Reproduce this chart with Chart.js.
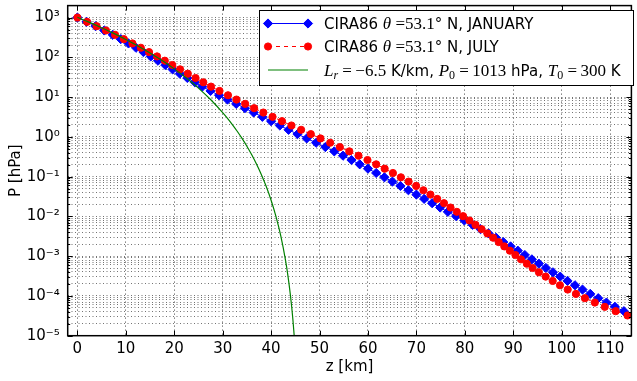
<!DOCTYPE html>
<html>
<head>
<meta charset="utf-8">
<script src="https://cdn.jsdelivr.net/npm/chart.js@4/dist/chart.umd.min.js"></script>
<style>
  html, body { margin: 0; padding: 0; background: #fff; }
</style>
</head>
<body>
<canvas id="chart" width="637" height="381"></canvas>
<script>
// pressure levels of the CIRA86 table [hPa]
const pLevels = [
    1000, 778.8, 606.5, 472.4, 367.9, 286.5, 223.1, 173.8, 135.3, 105.4,
    82.08, 63.93, 49.79, 38.77, 30.20, 23.52, 18.32, 14.26, 11.11, 8.652,
    6.738, 5.248, 4.087, 3.183, 2.479, 1.930, 1.503, 1.171, 0.9119, 0.7102,
    0.5531, 0.4307, 0.3355, 0.2613, 0.2035, 0.1585, 0.1234, 0.09611, 0.07485, 0.05829,
    0.04540, 0.03536, 0.02754, 0.02145, 0.01670, 0.01301, 0.01013, 0.007889, 0.006144, 0.004785,
    0.003727, 0.002902, 0.002260, 0.001760, 0.001371, 0.001068, 0.0008315, 0.0006476, 0.0005043, 0.0003928,
    0.0003059, 0.0002382, 0.0001855, 0.0001445, 0.0001125, 0.00008764, 0.00006825, 0.00005316, 0.00004140, 0.00003224,
    0.00002511,
];

// altitude of each level [km], January
const zJanuary = [
    0, 1.9, 3.75, 5.55, 7.3, 8.95, 10.55, 12.1, 13.65, 15.15,
    16.65, 18.15, 19.65, 21.15, 22.7, 24.25, 25.8, 27.5, 29.25, 31.0,
    32.8, 34.6, 36.4, 38.2, 40.0, 41.8, 43.6, 45.45, 47.35, 49.3,
    51.2, 53.05, 54.85, 56.6, 58.3, 60.0, 61.7, 63.4, 65.05, 66.7,
    68.35, 70.0, 71.6, 73.25, 74.9, 76.5, 78.2, 79.9, 81.6, 83.25,
    84.9, 86.45, 87.95, 89.45, 90.95, 92.4, 93.85, 95.3, 96.75, 98.2,
    99.7, 101.2, 102.75, 104.3, 105.9, 107.55, 109.25, 111.0, 112.85, 114.8,
    116.8,
];

// altitude of each level [km], July
const zJuly = [
    0, 2.0, 3.97, 5.9, 7.78, 9.6, 11.37, 13.1, 14.8, 16.45,
    18.05, 19.6, 21.2, 22.8, 24.4, 26.0, 27.6, 29.35, 31.1, 32.85,
    34.65, 36.5, 38.4, 40.3, 42.25, 44.2, 46.2, 48.2, 50.2, 52.2,
    54.2, 56.15, 58.05, 59.9, 61.7, 63.45, 65.15, 66.8, 68.4, 69.95,
    71.45, 72.9, 74.3, 75.7, 77.05, 78.35, 79.65, 80.95, 82.2, 83.45,
    84.65, 85.85, 87.0, 88.15, 89.3, 90.45, 91.6, 92.8, 94.0, 95.3,
    96.7, 98.15, 99.65, 101.25, 102.95, 104.8, 106.85, 108.9, 111.15, 113.6,
    116.2,
];

// constant lapse rate curve
const zLapse = [0, 2.5, 5, 7.5, 10, 12.5, 15, 17.5, 20, 22.5, 25, 27.5, 30, 31, 32, 33, 34, 35,
    36, 37, 38, 39, 40, 41, 42, 43, 43.5, 44, 44.25, 44.5, 44.8];
const pLapse = [1013, 756, 554, 399, 281, 193, 128, 82.7, 51.2, 30.2, 16.8, 8.67, 4.07, 2.91, 2.03, 1.38, 0.912, 0.580,
    0.354, 0.205, 0.112, 0.0563, 0.0255, 0.0100, 0.00323, 0.00076, 0.000307, 0.000102, 0.0000536, 0.0000255, 0.0000089];

const xTicks = [0, 10, 20, 30, 40, 50, 60, 70, 80, 90, 100, 110];
const yDecades = [-5, -4, -3, -2, -1, 0, 1, 2, 3];

const FONT = "'DejaVu Sans', sans-serif";
const SERIF = "'Liberation Serif', 'DejaVu Serif', serif";

const supDigits = { "-": "\u207B", "0": "\u2070", "1": "\u00B9", "2": "\u00B2", "3": "\u00B3",
    "4": "\u2074", "5": "\u2075", "6": "\u2076", "7": "\u2077", "8": "\u2078", "9": "\u2079" };
const sup = (n) => String(n).split("").map((c) => supDigits[c]).join("");

const isDecade = (v) => {
    const e = Math.round(Math.log10(v));
    return Math.abs(v / Math.pow(10, e) - 1) < 1e-6;
};

const yMax = 1995;
const yTickValues = [];
yDecades.forEach((e) => {
    for (let m = 1; m <= 9; m++) {
        const v = m * Math.pow(10, e);
        if (v <= yMax) yTickValues.push(v);
    }
});

const toPoints = (xs, ys) => xs.map((x, i) => ({ x: x, y: ys[i] }));

// legend rows: [font kind, text]
const legendRows = [
    [["s", "CIRA86 "], ["mi", "\u03B8"], ["m", " =53.1"], ["s", "\u00B0"], ["s", " N, JANUARY"]],
    [["s", "CIRA86 "], ["mi", "\u03B8"], ["m", " =53.1"], ["s", "\u00B0"], ["s", " N, JULY"]],
    [["mi", "L"], ["sub", "r"], ["m", " =\u2009\u22126.5"], ["s", " K/km, "], ["mi", "P"], ["subu", "0"],
     ["m", " =\u20091013"], ["s", " hPa, "], ["mi", "T"], ["subu", "0"], ["m", " =\u2009300"], ["s", " K"]],
];
const segFont = {
    s: { font: "15px " + FONT, dy: 0 },
    mi: { font: "italic 17px " + SERIF, dy: 0 },
    m: { font: "17px " + SERIF, dy: 0 },
    sub: { font: "italic 12px " + SERIF, dy: 3.5 },
    subu: { font: "12px " + SERIF, dy: 3.5 },
};

function marker(ctx, style, x, y, r) {
    ctx.beginPath();
    if (style === "rectRot") {
        ctx.moveTo(x, y - r);
        ctx.lineTo(x + r, y);
        ctx.lineTo(x, y + r);
        ctx.lineTo(x - r, y);
        ctx.closePath();
    } else {
        ctx.arc(x, y, r, 0, Math.PI * 2);
    }
    ctx.fill();
    ctx.stroke();
}

const frame = {
    id: "frame",
    afterDraw(chart) {
        const { ctx, chartArea: a } = chart;
        const xs = chart.scales.x;
        const ys = chart.scales.y;
        ctx.save();

        // inward tick marks on all sides
        ctx.strokeStyle = "#000";
        ctx.lineWidth = 1;
        ctx.beginPath();
        xs.ticks.forEach((t) => {
            const px = Math.round(xs.getPixelForValue(t.value)) + 0.5;
            ctx.moveTo(px, a.bottom);
            ctx.lineTo(px, a.bottom - 5);
            ctx.moveTo(px, a.top);
            ctx.lineTo(px, a.top + 5);
        });
        ys.ticks.forEach((t) => {
            const len = isDecade(t.value) ? 5 : 2.5;
            const py = Math.round(ys.getPixelForValue(t.value)) + 0.5;
            ctx.moveTo(a.left, py);
            ctx.lineTo(a.left + len, py);
            ctx.moveTo(a.right, py);
            ctx.lineTo(a.right - len, py);
        });
        ctx.stroke();

        ctx.lineWidth = 1.5;
        ctx.strokeRect(a.left, a.top, a.right - a.left, a.bottom - a.top);

        // legend box
        const box = { left: 259, top: 10.5, right: 633, bottom: 85.5 };
        ctx.fillStyle = "#fff";
        ctx.fillRect(box.left, box.top, box.right - box.left, box.bottom - box.top);
        ctx.lineWidth = 1;
        ctx.strokeRect(box.left + 0.5, box.top, box.right - box.left, box.bottom - box.top);

        const rowY = [23.5, 46.5, 70];
        const x0 = 268, x1 = 308, tx = 324;
        chart.data.datasets.forEach((ds, i) => {
            const y = rowY[i];
            ctx.strokeStyle = ds.borderColor;
            ctx.fillStyle = ds.backgroundColor;
            ctx.lineWidth = ds.borderWidth;
            ctx.setLineDash(ds.borderDash || []);
            ctx.beginPath();
            ctx.moveTo(x0, y);
            ctx.lineTo(x1, y);
            ctx.stroke();
            ctx.setLineDash([]);
            if (ds.pointRadius > 0) {
                ctx.lineWidth = ds.pointBorderWidth;
                marker(ctx, ds.pointStyle, x0, y, ds.pointRadius);
                marker(ctx, ds.pointStyle, x1, y, ds.pointRadius);
            }
            // label text
            ctx.fillStyle = "#000";
            ctx.textBaseline = "alphabetic";
            ctx.textAlign = "left";
            let x = tx;
            legendRows[i].forEach(([kind, text]) => {
                const f = segFont[kind];
                ctx.font = f.font;
                ctx.fillText(text, x, y + 5.5 + f.dy);
                x += ctx.measureText(text).width;
            });
        });
        ctx.restore();
    },
};

const ctx = document.getElementById("chart");

const chart = new Chart(ctx, {
    type: "scatter",
    data: {
        datasets: [
            {
                label: "CIRA86 \u03B8=53.1\u00B0 N, JANUARY",
                data: toPoints(zJanuary, pLevels),
                showLine: true,
                borderColor: "#0000ff",
                backgroundColor: "#0000ff",
                borderWidth: 1,
                pointStyle: "rectRot",
                pointRadius: 4.6,
                pointBorderWidth: 1,
                order: 3,
            },
            {
                label: "CIRA86 \u03B8=53.1\u00B0 N, JULY",
                data: toPoints(zJuly, pLevels),
                showLine: true,
                borderColor: "#ff0000",
                backgroundColor: "#ff0000",
                borderWidth: 1,
                borderDash: [4, 4],
                pointStyle: "circle",
                pointRadius: 3.6,
                pointBorderWidth: 1,
                order: 2,
            },
            {
                label: "Lr=\u22126.5 K/km, P0=1013 hPa, T0=300 K",
                data: toPoints(zLapse, pLapse),
                showLine: true,
                borderColor: "#008000",
                backgroundColor: "#008000",
                borderWidth: 1.2,
                pointRadius: 0,
                cubicInterpolationMode: "monotone",
                order: 1,
            },
        ],
    },
    options: {
        responsive: false,
        animation: false,
        events: [],
        layout: { padding: { top: 2, right: 1, left: 0, bottom: 0 } },
        plugins: {
            legend: { display: false },
            tooltip: { enabled: false },
        },
        scales: {
            x: {
                type: "linear",
                min: -2,
                max: 114.4,
                afterBuildTicks: (s) => {
                    s.ticks = xTicks.map((v) => ({ value: v }));
                },
                afterFit: (s) => {
                    s.height = 45.3;
                    s.paddingLeft = 0;
                    s.paddingRight = 0;
                },
                ticks: {
                    autoSkip: false,
                    maxRotation: 0,
                    padding: 4,
                    color: "#000",
                    font: { family: FONT, size: 15 },
                },
                grid: { color: "rgba(0,0,0,0.75)", lineWidth: 1, drawTicks: false },
                border: { display: false, dash: [1, 3] },
                title: {
                    display: true,
                    text: "z [km]",
                    color: "#000",
                    font: { family: FONT, size: 15 },
                    padding: { top: 0, bottom: 5 },
                },
            },
            y: {
                type: "logarithmic",
                min: 1e-5,
                max: yMax,
                afterBuildTicks: (s) => {
                    s.ticks = yTickValues.map((v) => ({ value: v }));
                },
                afterFit: (s) => {
                    s.width = 67.7;
                    s.paddingTop = 0;
                    s.paddingBottom = 0;
                },
                ticks: {
                    autoSkip: false,
                    padding: 8,
                    color: "#000",
                    font: { family: FONT, size: 15 },
                    callback: (v) => {
                        if (!isDecade(v)) return "";
                        return "10" + sup(Math.round(Math.log10(v)));
                    },
                },
                grid: { color: "rgba(0,0,0,0.55)", lineWidth: 1, drawTicks: false },
                border: { display: false, dash: [1, 2.5] },
                title: {
                    display: true,
                    text: "P [hPa]",
                    color: "#000",
                    font: { family: FONT, size: 15 },
                    padding: { top: 7, bottom: 0 },
                },
            },
        },
    },
    plugins: [frame],
});
</script>
</body>
</html>
